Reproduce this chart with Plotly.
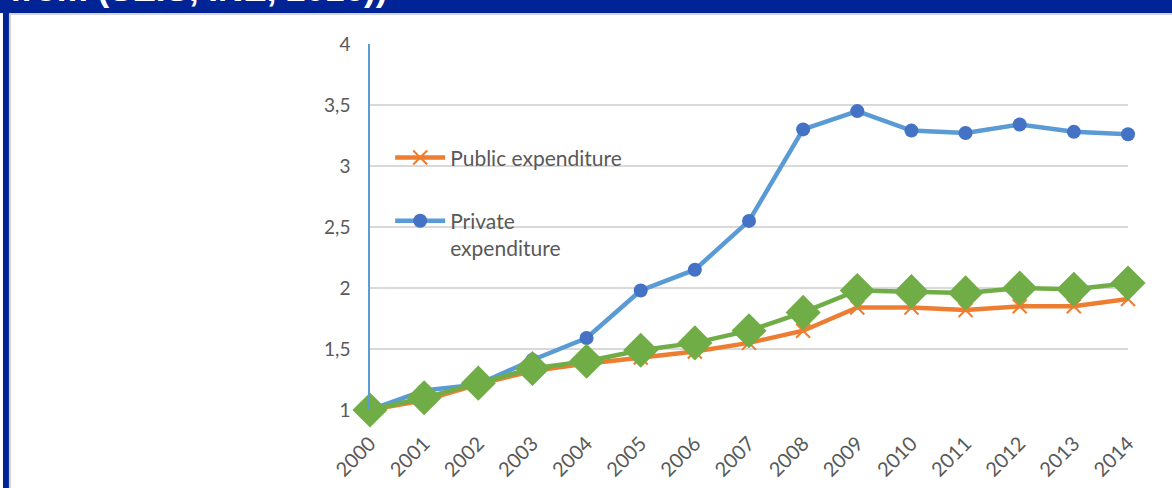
import plotly.graph_objects as go

years = list(range(2000, 2015))
public_exp = [1.00, 1.08, 1.21, 1.32, 1.38, 1.43, 1.48, 1.55, 1.65, 1.84, 1.84, 1.82, 1.85, 1.85, 1.91]
private_exp = [1.00, 1.16, 1.21, 1.41, 1.59, 1.98, 2.15, 2.55, 3.30, 3.45, 3.29, 3.27, 3.34, 3.28, 3.26]
total_exp = [1.00, 1.10, 1.22, 1.34, 1.40, 1.49, 1.55, 1.65, 1.80, 1.98, 1.97, 1.96, 2.00, 1.99, 2.04]
y_ticks = [1, 1.5, 2, 2.5, 3, 3.5, 4]
header_text = "from (SEIS, INE, 2016))"

FONT = "Lato"
GRAY = "#595959"

fig = go.Figure()
fig.add_trace(go.Scatter(
    x=years, y=public_exp, name="Public expenditure", legendgroup="pub",
    mode="lines+markers", cliponaxis=False,
    line=dict(color="#ED7D31", width=4.5),
    marker=dict(symbol="x-thin", size=14, line=dict(color="#ED7D31", width=2)),
))
fig.add_trace(go.Scatter(
    x=years, y=private_exp, name="Private<br>expenditure", legendgroup="priv",
    mode="lines+markers", cliponaxis=False,
    line=dict(color="#5B9BD5", width=4.5),
    marker=dict(symbol="circle", size=14, color="#4472C4"),
))
fig.add_trace(go.Scatter(
    x=years, y=total_exp, name="Total expenditure", legendgroup="tot", showlegend=False,
    mode="lines+markers", cliponaxis=False,
    line=dict(color="#70AD47", width=4.5),
    marker=dict(symbol="diamond", size=27, color="#70AD47"),
))

BLUE = "#002395"
shapes = [
    dict(type="rect", xref="paper", yref="paper", x0=-0.6, x1=1.2, y0=1.0847, y1=1.3,
         fillcolor=BLUE, line=dict(width=0), layer="above"),
    dict(type="rect", xref="paper", yref="paper", x0=-0.4763, x1=1.2, y0=1.0792, y1=1.0847,
         fillcolor="#D4D4D4", line=dict(width=0), layer="above"),
    dict(type="rect", xref="paper", yref="paper", x0=-0.4842, x1=-0.4763, y0=-0.3, y1=1.0847,
         fillcolor=BLUE, line=dict(width=0), layer="above"),
    dict(type="rect", xref="paper", yref="paper", x0=-0.4763, x1=-0.4736, y0=-0.3, y1=1.0792,
         fillcolor="#D4D4D4", line=dict(width=0), layer="above"),
]

fig.update_layout(
    width=1172, height=488,
    margin=dict(l=370, r=44, t=44, b=78),
    paper_bgcolor="white", plot_bgcolor="white",
    separators=", ",
    font=dict(family=FONT, color=GRAY),
    shapes=shapes,
    showlegend=True,
    legend=dict(x=0.0266, y=0.745, xanchor="left", yanchor="top",
                font=dict(family=FONT, size=21, color=GRAY),
                traceorder="grouped", tracegroupgap=33, valign="top",
                bgcolor="rgba(0,0,0,0)", itemwidth=50),
    annotations=[dict(text="<b>" + header_text + "</b>", xref="paper", yref="paper",
                      x=-0.478, y=1.092, xanchor="left", yanchor="bottom", showarrow=False,
                      font=dict(family="Liberation Sans", size=35, color="white"))],
)
fig.update_xaxes(
    range=[2000, 2014], tickmode="array", tickvals=years, ticktext=[str(y) for y in years],
    tickangle=-45, tickfont=dict(size=20, color=GRAY, family=FONT), automargin=False,
    showgrid=False, showline=False, zeroline=False, ticks="", ticklabelstandoff=17,
)
fig.update_yaxes(
    range=[1, 4], tickmode="array", tickvals=y_ticks, automargin=False,
    tickfont=dict(size=19, color=GRAY, family=FONT),
    showgrid=True, gridcolor="#D9D9D9", gridwidth=1.5,
    showline=True, linecolor="#5B9BD5", linewidth=1.5,
    zeroline=False, ticks="", ticklabelstandoff=14,
)

fig.write_html("out.html")
